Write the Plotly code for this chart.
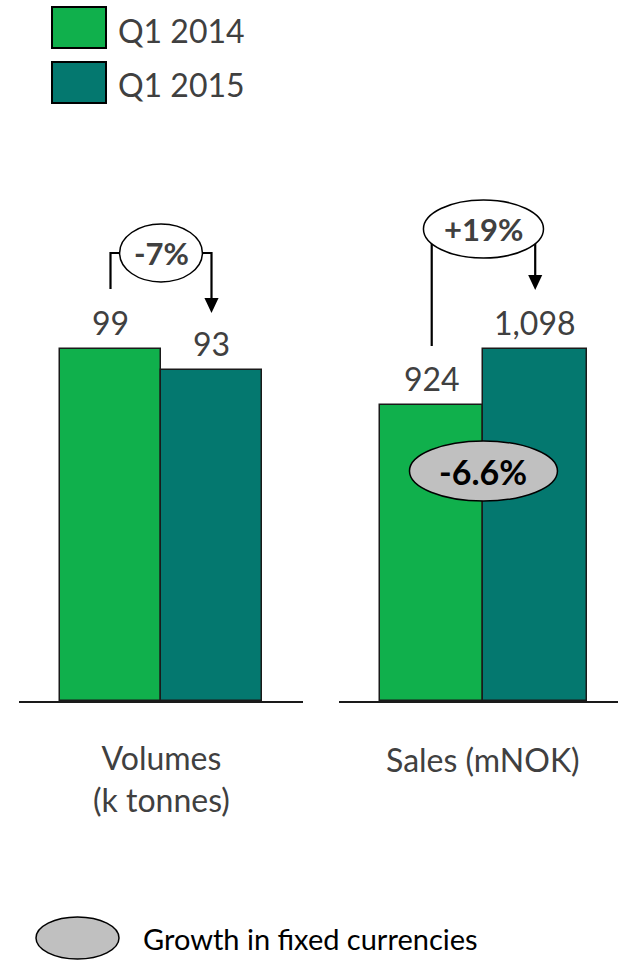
import plotly.graph_objects as go

# ---- data ----
series_names = ["Q1 2014", "Q1 2015"]
series_colors = ["#10B04C", "#04786F"]
volumes = [99, 93]            # k tonnes
sales = [924, 1098]           # mNOK
panel_titles = ["Volumes<br>(k tonnes)", "Sales (mNOK)"]
change_labels = ["-7%", "+19%"]
fixed_fx_label = "-6.6%"
value_text_volumes = ["99", "93"]
value_text_sales = ["924", "1,098"]
fx_legend_text = "Growth in fixed currencies"

# ---- layout constants (pixels) ----
W, H = 618, 960
BASE = 701          # baseline of both panels
TALL = 352          # pixel height of the tallest bar in each panel
FONT = "Lato, Calibri, Carlito, sans-serif"
GREY_TXT = "#404040"
EDGE = "#1a1a1a"


def pyaper(py):
    """pixel row -> paper y"""
    return 1 - py / H


def pxaper(px):
    return px / W


def make_y(vmax):
    top = vmax * BASE / TALL

    def conv(py):
        return (BASE - py) / BASE * top
    return top, conv


top1, y1 = make_y(max(volumes))
top2, y2 = make_y(max(sales))

fig = go.Figure()
for vals, xa, ya in [(volumes, "x", "y"), (sales, "x2", "y2")]:
    fig.add_trace(go.Bar(
        x=[0, 1], y=vals, width=1, xaxis=xa, yaxis=ya,
        marker=dict(color=series_colors, line=dict(color=EDGE, width=1.5)),
        showlegend=False, hoverinfo="skip",
    ))

ydom = [pyaper(BASE), 1]
fig.update_layout(
    width=W, height=H, margin=dict(l=0, r=0, t=0, b=0),
    paper_bgcolor="white", plot_bgcolor="rgba(0,0,0,0)",
    font=dict(family=FONT, color=GREY_TXT),
    bargap=0,
    xaxis=dict(domain=[pxaper(19), pxaper(303)], range=[-0.906, 1.906],
               showgrid=False, zeroline=False, showticklabels=False,
               showline=True, linecolor=EDGE, linewidth=1.5, ticks=""),
    xaxis2=dict(domain=[pxaper(339), 1], range=[-0.896, 1.80],
                showgrid=False, zeroline=False, showticklabels=False,
                showline=True, linecolor=EDGE, linewidth=1.5, ticks=""),
    yaxis=dict(domain=ydom, range=[0, top1], visible=False, anchor="x"),
    yaxis2=dict(domain=ydom, range=[0, top2], visible=False, anchor="x2"),
)

shapes = []
annots = []

# value labels above the bars
for xa, ya, vals, texts in [("x", "y", volumes, value_text_volumes),
                            ("x2", "y2", sales, value_text_sales)]:
    for i, (v, t) in enumerate(zip(vals, texts)):
        annots.append(dict(x=i, y=v, xref=xa, yref=ya, text=t, showarrow=False,
                           yanchor="bottom", yshift=5,
                           font=dict(size=32, color=GREY_TXT, family=FONT)))

line = dict(color="black", width=2.2)

# -7% bracket on volumes
shapes.append(dict(type="path", xref="x", yref="y", line=line,
                   path=f"M 0 {y1(289)} L 0 {y1(253)} L 1 {y1(253)} L 1 {y1(299)}"))
shapes.append(dict(type="path", xref="x", yref="y", line=dict(width=0),
                   fillcolor="black",
                   path=f"M 0.93 {y1(298)} L 1.07 {y1(298)} L 1 {y1(313)} Z"))
shapes.append(dict(type="circle", xref="x", yref="y", x0=0.09, x1=0.91,
                   y0=y1(282), y1=y1(224), fillcolor="white",
                   line=dict(color="black", width=1.5)))
annots.append(dict(x=0.5, y=y1(253), xref="x", yref="y", text=f"<b>{change_labels[0]}</b>",
                   showarrow=False, font=dict(size=31, color=GREY_TXT, family=FONT)))

# +19% bracket on sales
shapes.append(dict(type="path", xref="x2", yref="y2", line=line,
                   path=f"M 0 {y2(346)} L 0 {y2(229)} M 1 {y2(229)} L 1 {y2(277)}"))
shapes.append(dict(type="path", xref="x2", yref="y2", line=dict(width=0),
                   fillcolor="black",
                   path=f"M 0.932 {y2(275)} L 1.068 {y2(275)} L 1 {y2(290)} Z"))
shapes.append(dict(type="circle", xref="x2", yref="y2", x0=-0.08, x1=1.08,
                   y0=y2(258), y1=y2(200), fillcolor="white",
                   line=dict(color="black", width=1.5)))
annots.append(dict(x=0.5, y=y2(229), xref="x2", yref="y2", text=f"<b>{change_labels[1]}</b>",
                   showarrow=False, font=dict(size=31, color=GREY_TXT, family=FONT)))

# fixed-currency growth badge
shapes.append(dict(type="circle", xref="x2", yref="y2", x0=-0.215, x1=1.215,
                   y0=y2(501), y1=y2(441), fillcolor="#C0C0C0",
                   line=dict(color="black", width=1.5)))
annots.append(dict(x=0.5, y=y2(471), xref="x2", yref="y2", text=f"<b>{fixed_fx_label}</b>",
                   showarrow=False, font=dict(size=34, color="black", family=FONT)))

# category titles under each panel
annots.append(dict(x=0.5, y=pyaper(736), xref="x", yref="paper", text=panel_titles[0],
                   showarrow=False, yanchor="top", align="center",
                   font=dict(size=32, color=GREY_TXT, family=FONT)))
annots.append(dict(x=0.5, y=pyaper(738), xref="x2", yref="paper", text=panel_titles[1],
                   showarrow=False, yanchor="top", align="center",
                   font=dict(size=32, color=GREY_TXT, family=FONT)))

# legend at the top
for i, (name, col) in enumerate(zip(series_names, series_colors)):
    top = 7 + i * 55
    shapes.append(dict(type="rect", xref="paper", yref="paper",
                       x0=pxaper(52), x1=pxaper(106), y0=pyaper(top + 41), y1=pyaper(top),
                       fillcolor=col, line=dict(color="black", width=2)))
    annots.append(dict(x=pxaper(116), y=pyaper(top + 23), xref="paper", yref="paper",
                       text=name, showarrow=False, xanchor="left", yanchor="middle",
                       font=dict(size=32, color=GREY_TXT, family=FONT)))

# key for the grey badge
shapes.append(dict(type="circle", xref="paper", yref="paper",
                   x0=pxaper(36), x1=pxaper(119), y0=pyaper(959), y1=pyaper(917),
                   fillcolor="#C0C0C0", line=dict(color="black", width=1.5)))
annots.append(dict(x=pxaper(141), y=pyaper(938), xref="paper", yref="paper",
                   text=fx_legend_text, showarrow=False, xanchor="left", yanchor="middle",
                   font=dict(size=29, color="black", family=FONT)))

fig.update_layout(shapes=shapes, annotations=annots)
fig.write_html("out.html")
